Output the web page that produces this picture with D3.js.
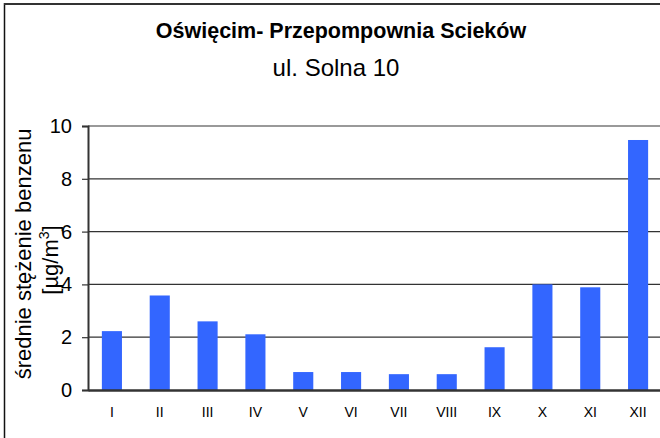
<!DOCTYPE html>
<html>
<head>
<meta charset="utf-8">
<script src="https://cdn.jsdelivr.net/npm/d3@7"></script>
<style>
  body { margin: 0; background: #fff; }
  svg { display: block; font-family: "Liberation Sans", Arial, sans-serif; }
</style>
</head>
<body>
<script>
// months and mean benzene values
var months = ["I", "II", "III", "IV", "V", "VI", "VII", "VIII", "IX", "X", "XI", "XII"];
var benzene = [2.23, 3.58, 2.6, 2.11, 0.68, 0.68, 0.6, 0.6, 1.62, 4.0, 3.89, 9.47];
var yTicks = [0, 2, 4, 6, 8, 10];

var width = 660, height = 438;
var plot = {left: 88, right: 662, top: 126, bottom: 390};

var svg = d3.select("body").append("svg").attr("width", width).attr("height", height);

// outer frame (left + top edges visible)
svg.append("line").attr("x1", 4.5).attr("x2", 4.5).attr("y1", 3).attr("y2", height)
  .attr("stroke", "#111").attr("stroke-width", 1.5);
svg.append("line").attr("x1", 4).attr("x2", width).attr("y1", 4).attr("y2", 4)
  .attr("stroke", "#333").attr("stroke-width", 2);

// titles
svg.append("text").attr("x", 341).attr("y", 38).attr("text-anchor", "middle")
  .attr("font-size", "21.5px").attr("font-weight", "bold").attr("fill", "#000")
  .text("Oświęcim- Przepompownia Scieków");
svg.append("text").attr("x", 336).attr("y", 76).attr("text-anchor", "middle")
  .attr("font-size", "24px").attr("fill", "#000")
  .text("ul. Solna 10");

var x = d3.scaleBand().domain(months).range([plot.left, plot.right])
  .paddingInner(0.58).paddingOuter(0.29);
var y = d3.scaleLinear().domain([0, 10]).range([plot.bottom, plot.top]);

// gridlines
svg.append("g").selectAll("line")
  .data(yTicks.filter(function(d) { return d > 0 && d < 10; }))
  .enter().append("line")
  .attr("x1", plot.left).attr("x2", plot.right)
  .attr("y1", function(d) { return y(d); }).attr("y2", function(d) { return y(d); })
  .attr("stroke", "#333").attr("stroke-width", 1.2);

// top border of plot area
svg.append("line").attr("x1", plot.left).attr("x2", plot.right)
  .attr("y1", y(10)).attr("y2", y(10))
  .attr("stroke", "#999").attr("stroke-width", 2);

// bars
svg.append("g").selectAll("rect")
  .data(benzene)
  .enter().append("rect")
  .attr("x", function(d, i) { return x(months[i]); })
  .attr("y", function(d) { return y(d); })
  .attr("width", x.bandwidth())
  .attr("height", function(d) { return y(0) - y(d); })
  .attr("fill", "#3366ff");

// y axis
var yAxis = d3.axisLeft(y).tickValues(yTicks).tickSize(6).tickPadding(10);
var gy = svg.append("g").attr("transform", "translate(" + plot.left + ",0)").call(yAxis);
gy.select(".domain").attr("stroke", "#333").attr("stroke-width", 2);
gy.selectAll(".tick line").attr("stroke", "#333").attr("stroke-width", 1.2);
gy.selectAll("text").attr("font-size", "20px").attr("fill", "#000")
  .attr("font-family", "Liberation Sans, Arial, sans-serif");

// x axis
var xAxis = d3.axisBottom(x).tickSize(0).tickPadding(17);
var gx = svg.append("g").attr("transform", "translate(0," + plot.bottom + ")").call(xAxis);
gx.select(".domain").attr("stroke", "#333").attr("stroke-width", 2.5);
gx.selectAll("text").attr("font-size", "14px").attr("fill", "#000")
  .attr("font-family", "Liberation Sans, Arial, sans-serif");

// y axis title, two lines
var yt = svg.append("text").attr("transform", "translate(31,254) rotate(-90)")
  .attr("text-anchor", "middle").attr("font-size", "22px").attr("fill", "#000");
yt.append("tspan").attr("x", 0).attr("y", 0).text("średnie stężenie benzenu");
var l2 = svg.append("text").attr("transform", "translate(57.5,260) rotate(-90)")
  .attr("text-anchor", "middle").attr("font-size", "22px").attr("fill", "#000");
l2.append("tspan").text("[µg/m");
l2.append("tspan").attr("font-size", "14px").attr("dy", "-9").text("3");
l2.append("tspan").attr("dy", "9").text("]");
</script>
</body>
</html>
